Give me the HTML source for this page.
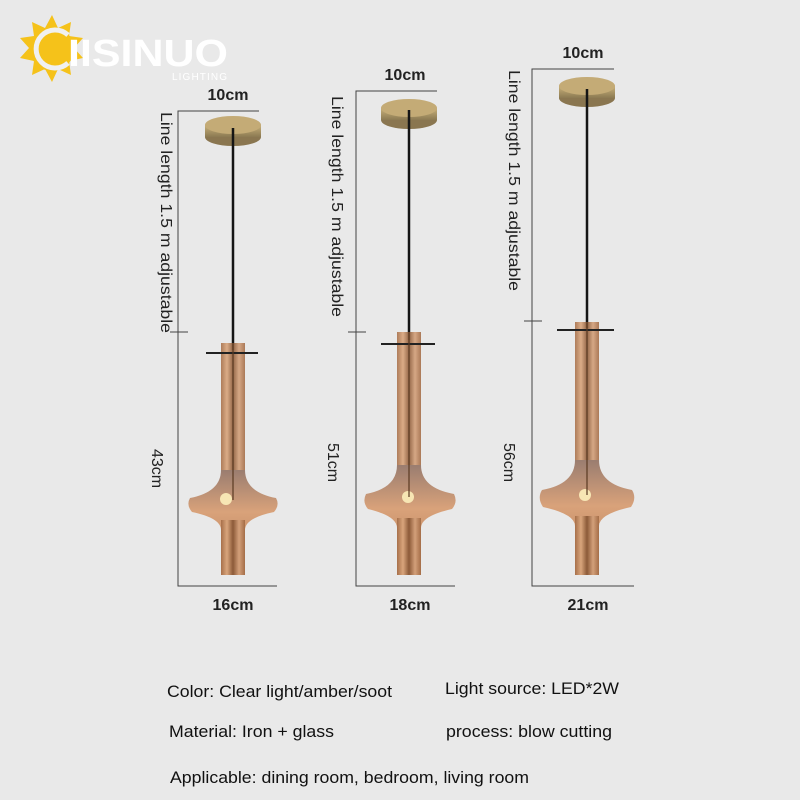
<!DOCTYPE html>
<html><head><meta charset="utf-8"><style>
html,body{margin:0;padding:0;background:#e9e9e9;}
svg{display:block;font-family:"Liberation Sans",sans-serif;}
</style></head><body>
<svg width="800" height="800" viewBox="0 0 800 800" xmlns="http://www.w3.org/2000/svg">
<defs>
<linearGradient id="amb" x1="0" x2="1" y1="0" y2="0">
<stop offset="0" stop-color="#a7704a"/><stop offset="0.25" stop-color="#d9a57c"/><stop offset="0.5" stop-color="#8c5a38"/><stop offset="0.75" stop-color="#d3a07a"/><stop offset="1" stop-color="#a46d47"/>
</linearGradient>
<linearGradient id="disc" x1="0" x2="0" y1="0" y2="1">
<stop offset="0" stop-color="#9a7d70"/><stop offset="0.4" stop-color="#d9a27a"/><stop offset="1" stop-color="#b07a55"/>
</linearGradient>
<linearGradient id="brass" x1="0" x2="0" y1="0" y2="1">
<stop offset="0" stop-color="#c8b07a"/><stop offset="1" stop-color="#8c7a52"/>
</linearGradient>
</defs>
<rect width="800" height="800" fill="#e9e9e9"/>
<g>
<polygon fill="#f5c21a" points="52,15 58,28 71,22 69,36 83,38 74,48 83,58 69,61 71,75 58,69 52,82 45,69 32,75 34,61 20,58 29,48 20,38 34,36 32,22 45,28"/>
<circle cx="52" cy="49" r="22" fill="#f5c21a"/>
<path d="M68 35 A19 19 0 1 0 68 63" fill="none" stroke="#f0f0f0" stroke-width="5"/>
<text x="68" y="66" font-size="38" font-weight="bold" fill="#ffffff" textLength="160" lengthAdjust="spacingAndGlyphs">IISINUO</text>
<text x="172" y="80" font-size="10" fill="#ffffff" textLength="55">LIGHTING</text>
</g>
<g stroke="#444" stroke-width="1" fill="none">
<polyline points="259,111 178,111 178,586 277,586"/>
<line x1="170" y1="332" x2="188" y2="332"/>
<polyline points="437,91 356,91 356,586 455,586"/>
<line x1="348" y1="332" x2="366" y2="332"/>
<polyline points="614,69 532,69 532,586 634,586"/>
<line x1="524" y1="321" x2="542" y2="321"/>
</g>
<g font-size="16" fill="#222" text-anchor="middle" font-weight="bold">
<text x="228" y="100">10cm</text>
<text x="405" y="80">10cm</text>
<text x="583" y="58">10cm</text>
<text x="233" y="610">16cm</text>
<text x="410" y="610">18cm</text>
<text x="588" y="610">21cm</text>
</g>
<g font-size="16" fill="#222">
<text transform="translate(161,112) rotate(90)" textLength="221" lengthAdjust="spacingAndGlyphs">Line length 1.5 m adjustable</text>
<text transform="translate(332,96) rotate(90)" textLength="221" lengthAdjust="spacingAndGlyphs">Line length 1.5 m adjustable</text>
<text transform="translate(509,70) rotate(90)" textLength="221" lengthAdjust="spacingAndGlyphs">Line length 1.5 m adjustable</text>
<text transform="translate(152,449) rotate(90)">43cm</text>
<text transform="translate(328,443) rotate(90)">51cm</text>
<text transform="translate(504,443) rotate(90)">56cm</text>
</g>
<g>
<ellipse cx="233" cy="137" rx="28" ry="9" fill="#8a7650"/>
<rect x="205" y="125" width="56" height="12" fill="url(#brass)"/>
<ellipse cx="233" cy="125" rx="28" ry="9" fill="#c4ab76"/>
<line x1="233" y1="128" x2="233" y2="350" stroke="#151515" stroke-width="2.5"/>
<rect x="221" y="343" width="24" height="150" fill="url(#amb)" opacity="0.9"/>
<path d="M221 470 Q221 492 190 498 Q186 505 192 512 Q221 518 221 530 L221 575 L245 575 L245 530 Q245 518 274 512 Q280 505 276 498 Q245 492 245 470 Z" fill="url(#disc)"/>
<rect x="221" y="520" width="24" height="55" fill="url(#amb)"/>
<circle cx="226" cy="499" r="6" fill="#f7e6b4"/>
<line x1="206" y1="353" x2="258" y2="353" stroke="#222" stroke-width="2"/>
<line x1="233" y1="343" x2="233" y2="500" stroke="#5a3a22" stroke-width="2" opacity="0.6"/>
</g>
<g>
<ellipse cx="409" cy="120" rx="28" ry="9" fill="#8a7650"/>
<rect x="381" y="108" width="56" height="12" fill="url(#brass)"/>
<ellipse cx="409" cy="108" rx="28" ry="9" fill="#c4ab76"/>
<line x1="409" y1="110" x2="409" y2="340" stroke="#151515" stroke-width="2.5"/>
<rect x="397" y="332" width="24" height="160" fill="url(#amb)" opacity="0.9"/>
<path d="M397 465 Q397 488 366 494 Q362 502 368 509 Q397 516 397 528 L397 575 L421 575 L421 528 Q421 516 452 509 Q458 502 454 494 Q421 488 421 465 Z" fill="url(#disc)"/>
<rect x="397" y="518" width="24" height="57" fill="url(#amb)"/>
<circle cx="408" cy="497" r="6" fill="#f7e6b4"/>
<line x1="381" y1="344" x2="435" y2="344" stroke="#222" stroke-width="2"/>
<line x1="409" y1="332" x2="409" y2="497" stroke="#5a3a22" stroke-width="2" opacity="0.6"/>
</g>
<g>
<ellipse cx="587" cy="98" rx="28" ry="9" fill="#8a7650"/>
<rect x="559" y="86" width="56" height="12" fill="url(#brass)"/>
<ellipse cx="587" cy="86" rx="28" ry="9" fill="#c4ab76"/>
<line x1="587" y1="89" x2="587" y2="328" stroke="#151515" stroke-width="2.5"/>
<rect x="575" y="322" width="24" height="170" fill="url(#amb)" opacity="0.9"/>
<path d="M575 460 Q575 484 542 490 Q537 498 543 507 Q575 514 575 526 L575 575 L599 575 L599 526 Q599 514 631 507 Q637 498 632 490 Q599 484 599 460 Z" fill="url(#disc)"/>
<rect x="575" y="516" width="24" height="59" fill="url(#amb)"/>
<circle cx="585" cy="495" r="6" fill="#f7e6b4"/>
<line x1="557" y1="330" x2="614" y2="330" stroke="#222" stroke-width="2"/>
<line x1="587" y1="322" x2="587" y2="495" stroke="#5a3a22" stroke-width="2" opacity="0.6"/>
</g>
<g font-size="17" fill="#111">
<text x="167" y="697" textLength="225" lengthAdjust="spacingAndGlyphs">Color: Clear light/amber/soot</text>
<text x="445" y="694" textLength="174" lengthAdjust="spacingAndGlyphs">Light source: LED*2W</text>
<text x="169" y="737" textLength="165" lengthAdjust="spacingAndGlyphs">Material: Iron + glass</text>
<text x="446" y="737" textLength="166" lengthAdjust="spacingAndGlyphs">process: blow cutting</text>
<text x="170" y="783" textLength="359" lengthAdjust="spacingAndGlyphs">Applicable: dining room, bedroom, living room</text>
</g>
</svg>
</body></html>
